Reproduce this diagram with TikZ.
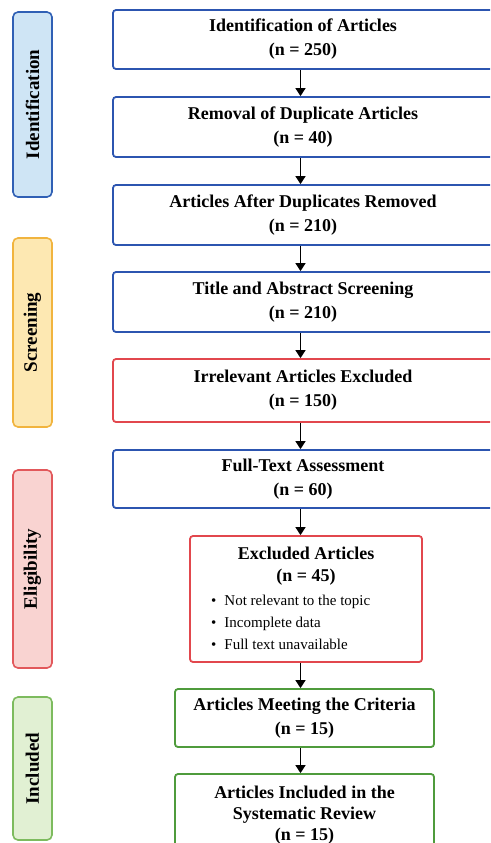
\documentclass[tikz,border=0pt]{standalone}
\usepackage{fontspec}
\setmainfont{Liberation Serif}
\usetikzlibrary{arrows.meta}
\definecolor{bluebd}{HTML}{2C55B0}
\definecolor{redbd}{HTML}{E2474D}
\definecolor{greenbd}{HTML}{4F9B3C}
\definecolor{idfill}{HTML}{CFE5F5}
\definecolor{idbd}{HTML}{3060B5}
\definecolor{scfill}{HTML}{FDE8B2}
\definecolor{scbd}{HTML}{F1B43E}
\definecolor{elfill}{HTML}{F9D3D1}
\definecolor{elbd}{HTML}{E2585B}
\definecolor{infill}{HTML}{E1F0D3}
\definecolor{inbd}{HTML}{7DBB5E}

\begin{document}
\begin{tikzpicture}[x=1pt, y=-1pt,
    box/.style={draw, line width=1.8pt, rounded corners=3pt, align=center, inner sep=0pt,
        font=\bfseries\fontsize{18}{24}\selectfont},
    bluebox/.style={box, draw=bluebd, minimum width=380pt},
    redbox/.style={box, draw=redbd},
    greenbox/.style={box, draw=greenbd, minimum width=259pt},
    phase/.style={draw, line width=1.6pt, rounded corners=5pt, rotate=90, minimum height=39pt,
        inner sep=0pt, font=\bfseries\fontsize{19}{22}\selectfont},
    arr/.style={-{Triangle[width=10pt,length=8pt]}, line width=1.6pt}]
        \useasboundingbox (0,0) rectangle (490,843);
        \clip (0,0) rectangle (490,843);
        \fill[white] (0,0) rectangle (490,843);
        % phase bars on the left
        \node[phase, fill=idfill, draw=idbd, minimum width=185pt] (pid) at (32.5,104.5) {Identification};
        \node[phase, fill=scfill, draw=scbd, minimum width=189pt] (psc) at (32.5,332.5) {Screening};
        \node[phase, fill=elfill, draw=elbd, minimum width=198pt] (pel) at (32.5,569) {Eligibility};
        \node[phase, fill=infill, draw=inbd, minimum width=143pt] (pin) at (32.5,768.5) {Included};
        % flow boxes
        \node[bluebox, minimum height=59pt] (idart) at (303,39.5) {Identification of Articles\\(n = 250)};
        \node[bluebox, minimum height=60pt] (dupl) at (303,127) {Removal of Duplicate Articles\\(n = 40)};
        \node[bluebox, minimum height=60pt] (after) at (303,215) {Articles After Duplicates Removed\\(n = 210)};
        \node[bluebox, minimum height=60pt] (screen) at (303,302) {Title and Abstract Screening\\(n = 210)};
        \node[redbox, minimum width=380pt, minimum height=63pt] (irrel) at (303,390.5) {Irrelevant Articles Excluded\\(n = 150)};
        \node[bluebox, minimum height=58pt] (full) at (303,479) {Full-Text Assessment\\(n = 60)};
        \node[redbox, minimum width=232pt, minimum height=126pt] (excl) at (306,599) {};
        \node[font=\bfseries\fontsize{18}{22}\selectfont, align=center, inner sep=0pt] (excltitle) at (306,566) {Excluded Articles\\(n = 45)};
        \node[font=\fontsize{15}{22}\selectfont, align=left, anchor=west, inner sep=0pt] (excllist) at (211,622)
            {\textbullet\hspace{8pt}Not relevant to the topic\\\textbullet\hspace{8pt}Incomplete data\\\textbullet\hspace{8pt}Full text unavailable};
        \node[greenbox, minimum height=58pt] (meet) at (304.5,718) {Articles Meeting the Criteria\\(n = 15)};
        \node[greenbox, minimum height=82pt, font=\bfseries\fontsize{18}{21}\selectfont] (incl) at (304.5,815) {Articles Included in the\\Systematic Review\\(n = 15)};
        % arrows
        \draw[arr] ([xshift=-2.5pt]idart.south) -- ([xshift=-2.5pt]dupl.north);
        \draw[arr] ([xshift=-2.5pt]dupl.south) -- ([xshift=-2.5pt]after.north);
        \draw[arr] ([xshift=-2.5pt]after.south) -- ([xshift=-2.5pt]screen.north);
        \draw[arr] ([xshift=-2.5pt]screen.south) -- ([xshift=-2.5pt]irrel.north);
        \draw[arr] ([xshift=-2.5pt]irrel.south) -- ([xshift=-2.5pt]full.north);
        \draw[arr] ([xshift=-2.5pt]full.south) -- ([xshift=-2.5pt]full.south |- excl.north);
        \draw[arr] ([xshift=-2.5pt]full.south |- excl.south) -- ([xshift=-2.5pt]full.south |- meet.north);
        \draw[arr] ([xshift=-2.5pt]full.south |- meet.south) -- ([xshift=-2.5pt]full.south |- incl.north);
    \end{tikzpicture}
\end{document}
